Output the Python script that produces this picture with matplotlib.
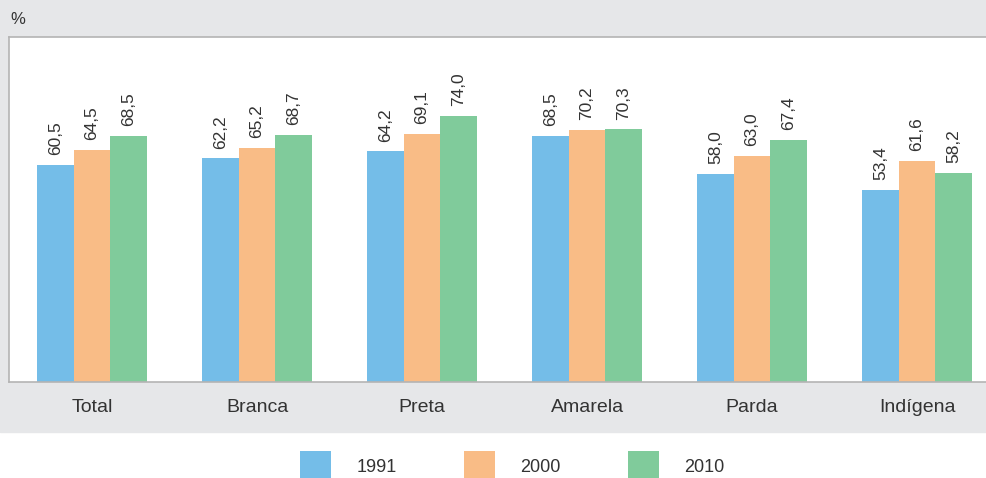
import numpy as np
import matplotlib
matplotlib.use("Agg")
import matplotlib.pyplot as plt
from matplotlib.patches import Rectangle, Patch

plt.rcParams['font.family'] = ['Liberation Sans', 'DejaVu Sans']

# data
categories = ["Total", "Branca", "Preta", "Amarela", "Parda", "Indígena"]
years = ["1991", "2000", "2010"]
v1991 = [60.5, 62.2, 64.2, 68.5, 58.0, 53.4]
v2000 = [64.5, 65.2, 69.1, 70.2, 63.0, 61.6]
v2010 = [68.5, 68.7, 74.0, 70.3, 67.4, 58.2]

colors = ['#74bde8', '#f9bc86', '#80cb9b']
bg_gray = '#e6e7e9'
text_col = '#333333'

fig = plt.figure(figsize=(9.87, 4.78), dpi=100, facecolor='white')

# gray band behind chart + labels
fig.patches.append(Rectangle((0, 1 - 432 / 478), 1, 432 / 478,
                             transform=fig.transFigure, color=bg_gray, zorder=-10))

ax = fig.add_axes([9 / 987, 1 - 382 / 478, 1 - 9 / 987 + 0.01, (382 - 37) / 478])
ax.set_zorder(5)
ax.set_facecolor('white')

x = np.arange(len(categories))
w = 0.222
series = [v1991, v2000, v2010]
for i, vals in enumerate(series):
    xs = x + (i - 1) * w
    bars = ax.bar(xs, vals, width=w, color=colors[i], zorder=2)
    for b, v in zip(bars, vals):
        ax.annotate(f"{v:.1f}".replace('.', ','),
                    (b.get_x() + b.get_width() / 2, b.get_height()),
                    xytext=(0, 7), textcoords='offset points',
                    rotation=90, ha='center', va='bottom',
                    fontsize=12.5, color=text_col)

ax.set_ylim(0, 96)
ax.set_xlim(-0.503, 5.424 + 0.01 * 987 / 165)
ax.set_yticks([])
ax.set_xticks(x)
ax.set_xticklabels(categories, fontsize=14, color=text_col)
ax.tick_params(axis='x', length=0, pad=12.5)
for s in ax.spines.values():
    s.set_color('#b4b4b4')
    s.set_linewidth(1.2)
ax.spines['right'].set_visible(False)

fig.text(10 / 987, 1 - 20 / 478, "%", fontsize=12, color=text_col, va='center', ha='left')

handles = [Patch(facecolor=c, edgecolor='none') for c in colors]
fig.legend(handles, years, loc='center', bbox_to_anchor=(512.5 / 987, 1 - 466 / 478),
           ncol=3, frameon=False, fontsize=13, handlelength=1.72, handleheight=2.2,
           handletextpad=1.38, columnspacing=3.75, borderpad=0, labelcolor=text_col)

fig.savefig("out.png", dpi=100, facecolor='white')
